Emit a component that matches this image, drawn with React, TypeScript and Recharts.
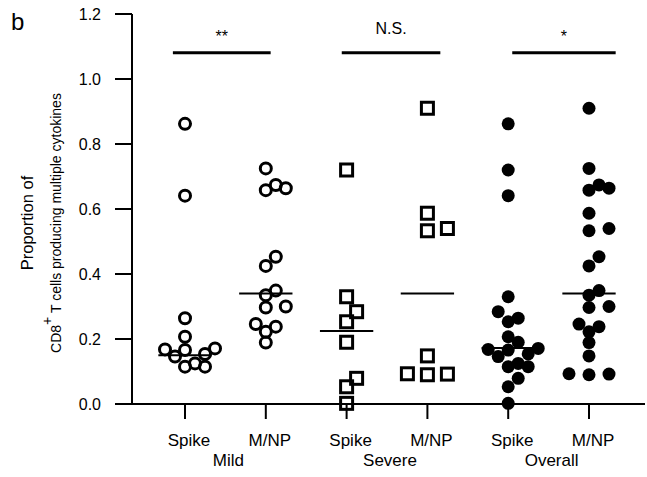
import { ScatterChart, Scatter, XAxis, YAxis, ReferenceLine } from "recharts";

const categories = ["Spike", "M/NP", "Spike", "M/NP", "Spike", "M/NP"];
const severityGroups = ["Mild", "Severe", "Overall"];
const yTicks = [0, 0.2, 0.4, 0.6, 0.8, 1.0, 1.2];

const mildSpike = [0.862, 0.641, 0.264, 0.207, 0.171, 0.168, 0.166, 0.154, 0.146, 0.125, 0.115, 0.115];
const mildMNP = [0.725, 0.674, 0.664, 0.658, 0.453, 0.425, 0.349, 0.335, 0.3, 0.297, 0.246, 0.238, 0.222, 0.189];
const severeSpike = [0.72, 0.33, 0.284, 0.253, 0.19, 0.079, 0.053, 0.002];
const severeMNP = [0.91, 0.587, 0.54, 0.533, 0.148, 0.093, 0.092, 0.09];
// overall = mild + severe donors
const overallSpike = [...mildSpike, ...severeSpike];
const overallMNP = [...mildMNP, ...severeMNP];

const medians = [0.15, 0.34, 0.225, 0.34, 0.172, 0.34];

const significance = [
  { label: "**", from: 0.85, to: 2.06, level: 1.081 },
  { label: "N.S.", from: 2.94, to: 4.16, level: 1.081 },
  { label: "*", from: 5.05, to: 6.33, level: 1.081 },
];

const FONT = "'Liberation Sans', Arial, sans-serif";
const PX_X = 80.8; // px per category
const PX_Y = 325; // px per unit on y

// simple beeswarm: push each point sideways until it doesn't overlap
function swarm(values: number[], step = 10, gap = 10.5) {
  const order = values.map((_, i) => i).sort((a, b) => values[a] - values[b]);
  const placed: { dx: number; y: number }[] = [];
  const out = new Array(values.length).fill(0);
  for (const i of order) {
    const y = values[i] * PX_Y;
    for (let k = 0; k < 30; k++) {
      const dx = k === 0 ? 0 : (k % 2 ? 1 : -1) * Math.ceil(k / 2) * step;
      if (placed.every((p) => Math.hypot(p.dx - dx, p.y - y) >= gap)) {
        placed.push({ dx, y });
        out[i] = dx;
        break;
      }
    }
  }
  return out;
}

function toPoints(values: number[], pos: number) {
  const off = swarm(values);
  return values.map((v, i) => ({ x: pos + off[i] / PX_X, y: v }));
}

const OpenCircle = (p: any) => (
  <circle cx={p.cx} cy={p.cy} r={5.5} fill="none" stroke="#000" strokeWidth={3} />
);
const OpenSquare = (p: any) => (
  <rect x={p.cx - 6} y={p.cy - 6} width={12} height={12} fill="none" stroke="#000" strokeWidth={3} />
);
const FilledCircle = (p: any) => <circle cx={p.cx} cy={p.cy} r={6.5} fill="#000" />;

const series = [
  { values: mildSpike, shape: OpenCircle },
  { values: mildMNP, shape: OpenCircle },
  { values: severeSpike, shape: OpenSquare },
  { values: severeMNP, shape: OpenSquare },
  { values: overallSpike, shape: FilledCircle },
  { values: overallMNP, shape: FilledCircle },
];

const CategoryTick = (props: any) => {
  const { x, y, payload } = props;
  const i = payload.value - 1;
  return (
    <g fontFamily={FONT} fontSize={17} fill="#000">
      <text x={x + 4} y={y + 27} textAnchor="middle">
        {categories[i]}
      </text>
      {i % 2 === 0 && (
        <text x={x + PX_X / 2 + 3} y={y + 47} textAnchor="middle">
          {severityGroups[i / 2]}
        </text>
      )}
    </g>
  );
};

const YTitle = () => (
  <g fontFamily={FONT} fill="#000">
    <text x={11} y={30} fontSize={24}>
      b
    </text>
    <text transform="translate(33,223) rotate(-90)" textAnchor="middle" fontSize={16.5}>
      Proportion of
    </text>
    <text transform="translate(61,223) rotate(-90)" textAnchor="middle" fontSize={14}>
      CD8
      <tspan dy={-9} fontSize={14}>
        +
      </tspan>
      <tspan dy={9}> T cells producing multiple cytokines</tspan>
    </text>
  </g>
);

export default function App() {
  return (
    <div style={{ position: "absolute", left: 0, top: 0, background: "#fff" }}>
      <ScatterChart width={647} height={477} margin={{ top: 14, right: 2, bottom: 0, left: 0 }}>
        <XAxis
          type="number"
          dataKey="x"
          domain={[0.344, 6.693]}
          ticks={[1, 2, 3, 4, 5, 6]}
          allowDataOverflow
          height={73}
          axisLine={false}
          tickLine={{ stroke: "#000", strokeWidth: 2 }}
          tickSize={15}
          tickMargin={0}
          tick={<CategoryTick />}
        />
        <YAxis
          type="number"
          dataKey="y"
          domain={[0, 1.2]}
          ticks={yTicks}
          width={132}
          axisLine={{ stroke: "#000", strokeWidth: 2 }}
          tickLine={{ stroke: "#000", strokeWidth: 2 }}
          tickSize={17}
          tickMargin={14}
          tickFormatter={(v: number) => v.toFixed(1)}
          tick={{ fill: "#000", fontSize: 16, fontFamily: FONT }}
          label={<YTitle />}
        />
        <ReferenceLine
          segment={[
            { x: 0.16, y: 0 },
            { x: 6.693, y: 0 },
          ]}
          stroke="#000"
          strokeWidth={2}
          ifOverflow="visible"
        />
        {medians.map((m, i) => (
          <ReferenceLine
            key={"m" + i}
            segment={[
              { x: i + 1 - 0.33, y: m },
              { x: i + 1 + 0.33, y: m },
            ]}
            stroke="#000"
            strokeWidth={2}
          />
        ))}
        {significance.map((s) => (
          <ReferenceLine
            key={s.label}
            segment={[
              { x: s.from, y: s.level },
              { x: s.to, y: s.level },
            ]}
            stroke="#000"
            strokeWidth={3}
            label={{
              value: s.label,
              position: "top",
              offset: s.label === "N.S." ? 19 : 11,
              fill: "#000",
              fontSize: 16,
              fontFamily: FONT,
            }}
          />
        ))}
        {series.map((s, i) => (
          <Scatter
            key={i}
            data={toPoints(s.values, i + 1)}
            shape={s.shape}
            isAnimationActive={false}
          />
        ))}
      </ScatterChart>
    </div>
  );
}
